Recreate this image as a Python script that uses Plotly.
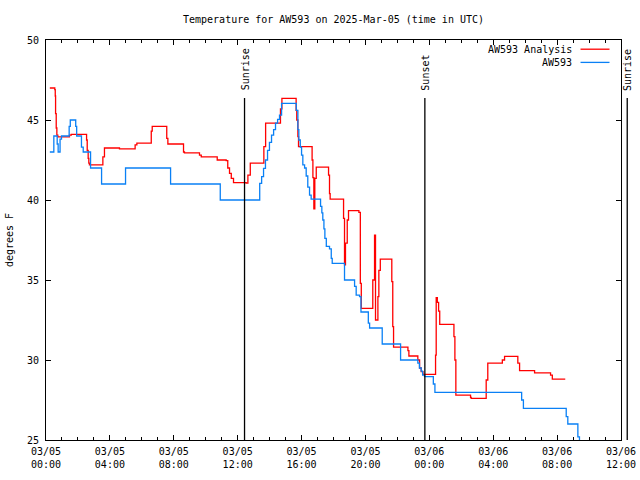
import plotly.graph_objects as go

# ---- data (hours since 2025-03-05 00:00 UTC, temperature in deg F) ----
analysis_hours = [0.24, 0.55, 0.58, 0.60, 0.64, 0.68, 0.74, 1.47, 1.58, 2.47, 2.54, 2.58, 2.64, 2.68, 2.72,
                  3.48, 3.56, 3.66, 4.60, 5.48, 5.58, 5.69, 6.53, 6.59, 6.65, 7.48, 7.56, 7.63, 8.50, 8.61,
                  8.67, 9.50, 9.61, 9.72, 10.61, 10.72, 11.28, 11.38, 11.49, 11.60, 11.74, 12.53, 12.64, 12.79,
                  13.58, 13.64, 13.75, 14.62, 14.68, 14.77, 15.60, 15.66, 15.70, 15.77, 15.81, 16.60, 16.66,
                  16.71, 16.77, 16.83, 16.92, 17.61, 17.69, 17.75, 17.79, 18.58, 18.63, 18.69, 18.75, 18.86,
                  18.94, 19.46, 19.59, 19.68, 19.74, 20.42, 20.46, 20.57, 20.63, 20.71, 20.78, 20.84, 20.93,
                  21.57, 21.65, 21.71, 21.76, 22.59, 22.66, 22.72, 23.22, 23.28, 23.39, 23.49, 23.60, 24.33,
                  24.39, 24.43, 24.50, 24.58, 24.65, 25.47, 25.54, 25.60, 25.66, 26.48, 26.58, 26.62, 27.50,
                  27.56, 27.66, 28.46, 28.57, 28.71, 29.48, 29.54, 29.65, 30.48, 30.59, 31.50, 31.59, 31.70,
                  32.51]
analysis_temps = [47.0, 46.9, 46.5, 45.4, 44.5, 44.05, 43.95, 44.05, 44.1, 44.1, 43.75, 43.1, 42.6, 42.3, 42.2,
                  42.2, 42.7, 43.25, 43.2, 43.2, 43.45, 43.55, 43.55, 44.3, 44.6, 44.6, 43.85, 43.5, 43.5, 43.0,
                  42.94, 42.94, 42.8, 42.7, 42.7, 42.5, 42.46, 42.0, 41.67, 41.35, 41.08, 41.05, 41.56, 42.3,
                  42.3, 43.33, 44.8, 44.8, 45.7, 46.35, 46.35, 45.6, 45.0, 43.96, 43.33, 43.33, 42.5,
                  41.4, 39.45, 41.35, 42.05, 42.05, 41.56, 40.4, 40.05, 40.05, 38.85, 35.94, 37.3, 38.75,
                  39.33, 39.33, 39.23, 34.79, 33.23, 33.23, 35.0, 37.8, 32.5, 32.5, 33.96, 35.6, 36.3,
                  36.3, 34.9, 32.08, 30.8, 30.8, 30.58, 30.25, 30.25, 30.0, 29.5, 29.27, 29.1, 29.1,
                  30.3, 33.9, 33.6, 33.06, 32.23, 32.23, 31.46, 30.0, 27.81, 27.81, 27.67, 27.6, 27.6,
                  28.75, 29.8, 29.8, 30.0, 30.23, 30.23, 29.8, 29.33, 29.33, 29.2, 29.2, 29.06, 28.81,
                  28.81]

obs_hours = [0.24, 0.49, 0.68, 0.70, 0.76, 0.88, 0.97, 1.39, 1.45, 1.52, 1.80, 1.86, 1.92, 2.10, 2.22, 2.33,
             2.68, 2.79, 3.30, 3.48, 4.81, 4.98, 7.63, 7.80, 10.76, 10.91, 13.27, 13.38, 13.50, 13.62, 13.74,
             13.87, 13.99, 14.12, 14.25, 14.37, 14.50, 14.62, 14.75, 15.58, 15.67, 15.77, 15.83, 15.92, 16.00,
             16.08, 16.19, 16.29, 16.39, 16.50, 16.60, 17.09, 17.19, 17.27, 17.33, 17.40, 17.46, 17.55, 17.75,
             17.86, 17.92, 18.59, 18.69, 19.21, 19.32, 19.42, 19.63, 19.72, 20.05, 20.18, 20.26, 20.92, 21.05,
             22.09, 22.20, 23.16, 23.28, 23.38, 23.49, 23.58, 23.70, 24.16, 24.25, 24.35, 29.69, 29.78, 29.89,
             32.51, 32.57, 32.67, 33.20, 33.30, 33.40]
obs_temps = [43.0, 44.0, 44.0, 43.5, 43.0, 43.8, 44.0, 44.0, 44.6, 45.0, 45.0, 44.6, 44.0, 44.0, 43.3, 43.0,
             43.0, 42.0, 42.0, 41.0, 41.0, 42.0, 42.0, 41.0, 41.0, 40.0, 40.0, 41.04, 41.46, 41.98, 42.5,
             43.1, 43.6, 44.06, 44.4, 44.8, 45.04, 45.3, 46.04, 46.04, 45.6, 44.4, 43.75, 43.3, 42.8,
             42.2, 42.0, 41.5, 40.8, 40.3, 40.06, 40.06, 39.6, 39.2, 38.75, 38.2, 37.6, 37.1, 36.94,
             36.35, 36.04, 36.04, 35.0, 35.0, 34.6, 34.06, 33.96, 33.0, 33.0, 32.3, 32.0, 32.0, 31.0,
             31.0, 30.0, 30.0, 29.8, 29.5, 29.3, 29.06, 28.96, 28.96, 28.5, 27.98, 27.98, 27.5, 26.98,
             26.98, 26.46, 26.0, 26.0, 25.2, 24.5]

sun_event_hours = [12.43, 23.72, 36.39]
sun_event_labels = ["Sunrise", "Sunset", "Sunrise"]

x_tick_hours = [0, 4, 8, 12, 16, 20, 24, 28, 32, 36]
x_tick_labels = ["03/05<br>00:00", "03/05<br>04:00", "03/05<br>08:00", "03/05<br>12:00", "03/05<br>16:00",
                 "03/05<br>20:00", "03/06<br>00:00", "03/06<br>04:00", "03/06<br>08:00", "03/06<br>12:00"]

series_names = ["AW593 Analysis", "AW593"]
series_colors = ["#ff0000", "#0a80f5"]

X_MIN, X_MAX = 0, 36
Y_MIN, Y_MAX = 25, 50
FONT = "DejaVu Sans Mono"

fig = go.Figure()
fig.add_trace(go.Scatter(x=analysis_hours, y=analysis_temps, mode="lines", line_shape="hv",
                         line=dict(color=series_colors[0], width=1.3), name=series_names[0], showlegend=False))
fig.add_trace(go.Scatter(x=obs_hours, y=obs_temps, mode="lines", line_shape="hv",
                         line=dict(color=series_colors[1], width=1.3), name=series_names[1], showlegend=False))

# sunrise / sunset markers
for h, lab in zip(sun_event_hours, sun_event_labels):
    px = (h - X_MIN) / (X_MAX - X_MIN)
    fig.add_shape(type="line", xref="paper", yref="paper", x0=px, x1=px, y0=0, y1=0.855,
                  line=dict(color="black", width=1.3))
    fig.add_annotation(xref="paper", yref="paper", x=px, y=0.868, text=lab, textangle=-90,
                       showarrow=False, xanchor="center", yanchor="bottom", xshift=1,
                       font=dict(family=FONT, size=10, color="black"))

# legend (gnuplot style: text right-aligned, sample line to the right)
legend_rows_y = [0.977, 0.944]
for name, col, ly in zip(series_names, series_colors, legend_rows_y):
    fig.add_annotation(xref="paper", yref="paper", x=0.919, y=ly, text=name, showarrow=False,
                       xanchor="right", yanchor="middle", font=dict(family=FONT, size=10, color="black"))
    fig.add_shape(type="line", xref="paper", yref="paper", x0=0.9296, x1=0.980, y0=ly, y1=ly,
                  line=dict(color=col, width=1.3))

fig.update_layout(
    width=640, height=480,
    margin=dict(l=46, r=19, t=40, b=40, autoexpand=False),
    paper_bgcolor="white", plot_bgcolor="white",
    font=dict(family=FONT, size=10, color="black"),
    title=dict(text="Temperature for AW593 on 2025-Mar-05 (time in UTC)", x=0.5, xref="paper",
               y=1 - 19 / 480, yref="container", yanchor="middle", xanchor="center",
               font=dict(family=FONT, size=10, color="black")),
    showlegend=False,
)
fig.update_xaxes(range=[X_MIN, X_MAX], tickvals=x_tick_hours, ticktext=x_tick_labels,
                 showgrid=False, zeroline=False, showline=True, linecolor="black", linewidth=1,
                 mirror="ticks", ticks="inside", ticklen=5, tickcolor="black", tickwidth=1,
                 ticklabelstandoff=2,
                 minor=dict(dtick=1, ticks="inside", ticklen=3, tickcolor="black", showgrid=False),
                 tickfont=dict(family=FONT, size=10, color="black"))
fig.update_yaxes(range=[Y_MIN, Y_MAX], dtick=5, tick0=25,
                 showgrid=False, zeroline=False, showline=True, linecolor="black", linewidth=1,
                 mirror="ticks", ticks="inside", ticklen=5, tickcolor="black", tickwidth=1,
                 ticklabelstandoff=4,
                 title=dict(text="degrees F", standoff=11, font=dict(family=FONT, size=10, color="black")),
                 tickfont=dict(family=FONT, size=10, color="black"))

fig.write_html("out.html")
